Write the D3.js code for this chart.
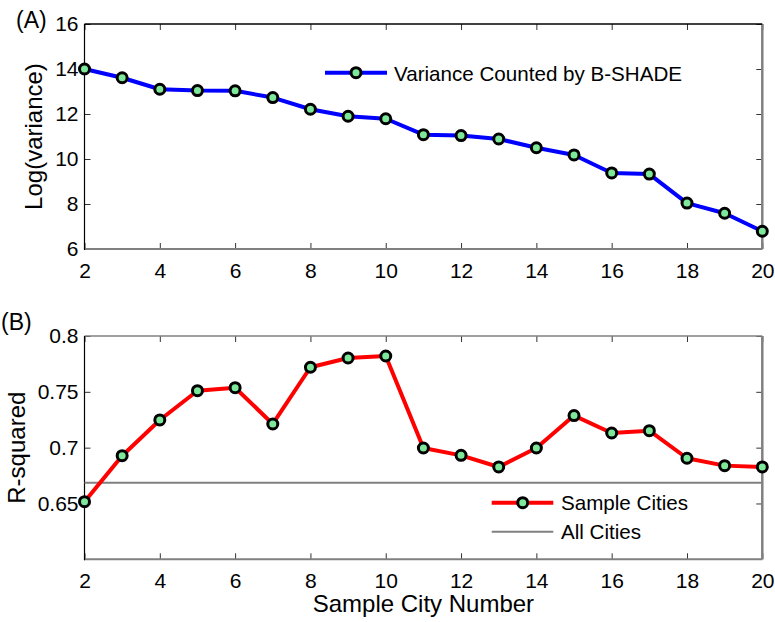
<!DOCTYPE html>
<html><head><meta charset="utf-8">
<script src="https://cdn.jsdelivr.net/npm/d3@7"></script>
<style>body{margin:0;background:#fff}text{font-family:Arial,"Liberation Sans",sans-serif}</style>
</head><body>
<svg id="c" width="775" height="622"></svg>
<script>
const cityNumbers = [2,3,4,5,6,7,8,9,10,11,12,13,14,15,16,17,18,19,20];
const logVariance = [14.0,13.61,13.1,13.04,13.03,12.73,12.21,11.9,11.79,11.08,11.04,10.89,10.5,10.18,9.38,9.33,8.04,7.59,6.79];
const rSquared = [0.6516,0.6928,0.7248,0.751,0.7537,0.7212,0.772,0.7803,0.7821,0.6997,0.6931,0.6827,0.6997,0.7287,0.7131,0.7152,0.6905,0.6839,0.6827];
const allCitiesR2 = 0.6686;
const xTicks = [2,4,6,8,10,12,14,16,18,20];
const yTicksA = [6,8,10,12,14,16];
const yTicksB = [0.65,0.7,0.75,0.8];

const svg = d3.select("#c");
const L = 84.5, R = 762.3;
const x = d3.scaleLinear().domain([2,20]).range([L,R]);
const MARK = "#7de89a";
const TF = 21;

function panel(top, bottom, yDomain, yTicks, tickFmt, topColor){
  const y = d3.scaleLinear().domain(yDomain).range([bottom, top]);
  const g = svg.append("g");
  g.append("g").attr("transform",`translate(0,${bottom})`)
    .call(d3.axisBottom(x).tickValues(xTicks).tickSizeInner(-6).tickSizeOuter(0).tickPadding(10).tickFormat(d3.format("d")))
    .call(a=>{a.select(".domain").remove();a.selectAll("line").attr("stroke","#333");a.selectAll("text").attr("font-size",TF).attr("fill","#000").attr("dy","0.9em");});
  g.append("g").attr("transform",`translate(0,${top})`)
    .call(d3.axisTop(x).tickValues(xTicks).tickSizeInner(-6).tickSizeOuter(0).tickFormat(""))
    .call(a=>{a.select(".domain").remove();a.selectAll("line").attr("stroke","#333");});
  g.append("g").attr("transform",`translate(${L},0)`)
    .call(d3.axisLeft(y).tickValues(yTicks).tickSizeInner(-6).tickSizeOuter(0).tickPadding(6).tickFormat(tickFmt))
    .call(a=>{a.select(".domain").remove();a.selectAll("line").attr("stroke","#333");a.selectAll("text").attr("font-size",TF).attr("fill","#000");});
  g.append("g").attr("transform",`translate(${R},0)`)
    .call(d3.axisRight(y).tickValues(yTicks).tickSizeInner(-6).tickSizeOuter(0).tickFormat(""))
    .call(a=>{a.select(".domain").remove();a.selectAll("line").attr("stroke","#333");});
  g.append("line").attr("x1",L).attr("x2",R).attr("y1",bottom).attr("y2",bottom).attr("stroke","#808080").attr("stroke-width",2);
  g.append("line").attr("x1",R).attr("x2",R).attr("y1",top).attr("y2",bottom).attr("stroke","#808080").attr("stroke-width",2.5);
  g.append("line").attr("x1",L).attr("x2",R).attr("y1",top).attr("y2",top).attr("stroke",topColor).attr("stroke-width",1.5);
  g.append("line").attr("x1",L).attr("x2",L).attr("y1",top).attr("y2",bottom+1).attr("stroke","#000").attr("stroke-width",1.2);
  return {g,y};
}

function series(g, y, vals, color){
  const line = d3.line().x((d,i)=>x(cityNumbers[i])).y(d=>y(d));
  g.append("path").datum(vals).attr("d",line).attr("fill","none").attr("stroke",color).attr("stroke-width",4).attr("stroke-linejoin","round");
  g.selectAll(null).data(vals).enter().append("circle")
    .attr("cx",(d,i)=>x(cityNumbers[i])).attr("cy",d=>y(d)).attr("r",5)
    .attr("fill",MARK).attr("stroke","#000").attr("stroke-width",3);
}

// Panel A
const A = panel(24, 249, [6,16], yTicksA, d3.format("d"), "#000");
series(A.g, A.y, logVariance, "#0000ff");
svg.append("text").attr("x",16).attr("y",28).attr("font-size",23).text("(A)");
svg.append("text").attr("transform","translate(42,136.5) rotate(-90)").attr("text-anchor","middle").attr("font-size",24).text("Log(variance)");
svg.append("line").attr("x1",325).attr("x2",387).attr("y1",72.7).attr("y2",72.7).attr("stroke","#0000ff").attr("stroke-width",4);
svg.append("circle").attr("cx",356).attr("cy",72.7).attr("r",5).attr("fill",MARK).attr("stroke","#000").attr("stroke-width",3);
svg.append("text").attr("x",394).attr("y",81).attr("font-size",20.6).text("Variance Counted by B-SHADE");

// Panel B
const B = panel(336, 559.3, [0.6,0.8], yTicksB, d=>d3.format("")(d), "#808080");
B.g.append("line").attr("x1",L).attr("x2",R).attr("y1",B.y(allCitiesR2)).attr("y2",B.y(allCitiesR2)).attr("stroke","#808080").attr("stroke-width",2);
series(B.g, B.y, rSquared, "#ff0000");
svg.append("text").attr("x",1).attr("y",330).attr("font-size",23).text("(B)");
svg.append("text").attr("transform","translate(25,447.7) rotate(-90)").attr("text-anchor","middle").attr("font-size",24).text("R-squared");
svg.append("text").attr("x",(L+R)/2).attr("y",612).attr("text-anchor","middle").attr("font-size",24).text("Sample City Number");
svg.append("line").attr("x1",491.7).attr("x2",553.3).attr("y1",502.7).attr("y2",502.7).attr("stroke","#ff0000").attr("stroke-width",4);
svg.append("circle").attr("cx",522.7).attr("cy",502.7).attr("r",5).attr("fill",MARK).attr("stroke","#000").attr("stroke-width",3);
svg.append("text").attr("x",561).attr("y",510).attr("font-size",20.6).text("Sample Cities");
svg.append("line").attr("x1",491.7).attr("x2",553.3).attr("y1",531.7).attr("y2",531.7).attr("stroke","#808080").attr("stroke-width",2);
svg.append("text").attr("x",561).attr("y",539).attr("font-size",20.6).text("All Cities");
</script>
</body></html>
